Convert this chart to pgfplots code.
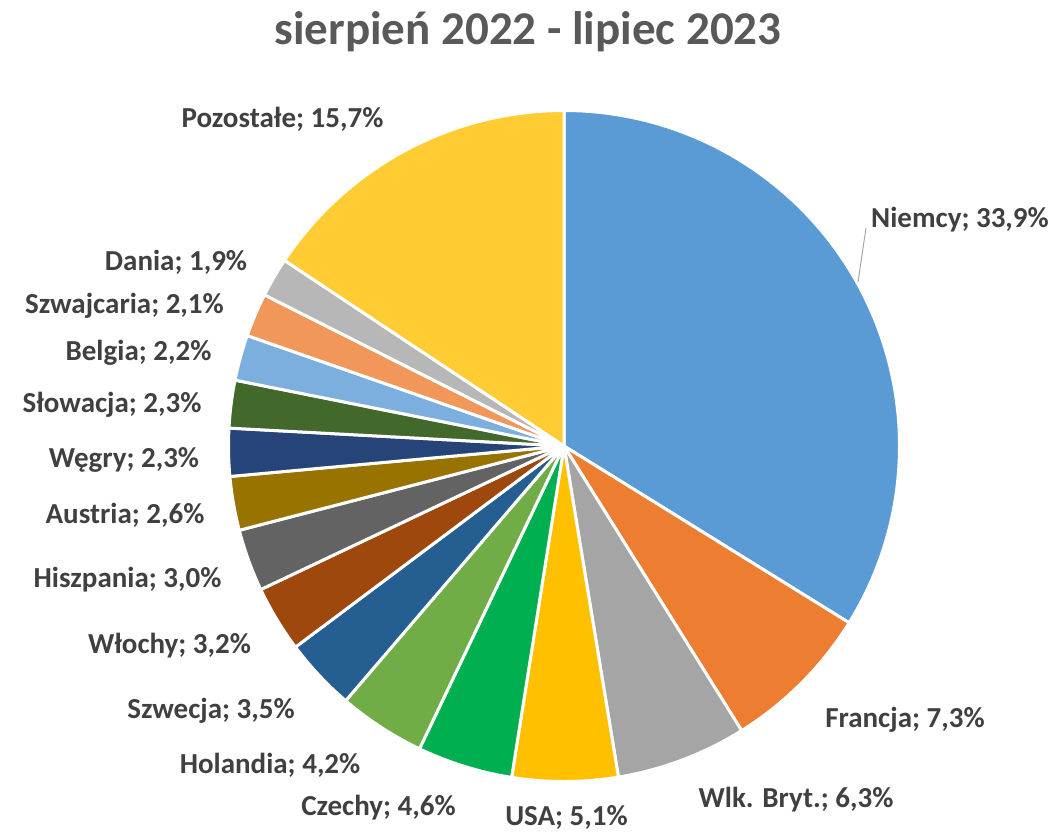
\documentclass[border=0pt]{standalone}
\usepackage{pgfplots}
\pgfplotsset{compat=1.18}
\usepackage{fontspec}
\setmainfont{Carlito}
\definecolor{cNiemcy}{HTML}{5B9BD5}
\definecolor{cFrancja}{HTML}{ED7D31}
\definecolor{cWlk}{HTML}{A5A5A5}
\definecolor{cUSA}{HTML}{FFC000}
\definecolor{cCzechy}{HTML}{00B050}
\definecolor{cHolandia}{HTML}{70AD47}
\definecolor{cSzwecja}{HTML}{255E91}
\definecolor{cWlochy}{HTML}{9E480E}
\definecolor{cHiszpania}{HTML}{636363}
\definecolor{cAustria}{HTML}{997300}
\definecolor{cWegry}{HTML}{264478}
\definecolor{cSlowacja}{HTML}{43682B}
\definecolor{cBelgia}{HTML}{7CAFDD}
\definecolor{cSzwajcaria}{HTML}{F1975A}
\definecolor{cDania}{HTML}{B7B7B7}
\definecolor{cPozostale}{HTML}{FFCD33}
\definecolor{labelgray}{HTML}{404040}
\definecolor{titlegray}{HTML}{595959}
% slice: {start angle}{end angle}{colour}; angles from the shares (percent * 360/100.2), clockwise from 90 deg
\newcommand{\slice}[3]{%
  \addplot[fill=#3, draw=white, line width=1.5pt, line join=round,
    domain=#1:#2, samples=120, variable=\t]
    ({564+335.5*cos(\t)},{446-335.5*sin(\t)}) -- (axis cs:564,446) -- cycle;}
\newcommand{\lab}[3]{\node[anchor=base, text=labelgray, font=\fontsize{14.5}{17}\selectfont\bfseries] at (axis cs:#1,#2) {#3};}
\begin{document}
\begin{tikzpicture}
\begin{axis}[
  scale only axis, width=527pt, height=415.5pt,
  xmin=0, xmax=1054, ymin=0, ymax=831, y dir=reverse,
  hide axis, clip=false]
% shares: 33.9, 7.3, 6.3, 5.1, 4.6, 4.2, 3.5, 3.2, 3.0, 2.6, 2.3, 2.3, 2.2, 2.1, 1.9, 15.7
\slice{-31.80}{90}{cNiemcy}
\slice{-58.02}{-31.80}{cFrancja}
\slice{-80.66}{-58.02}{cWlk}
\slice{-98.98}{-80.66}{cUSA}
\slice{-115.51}{-98.98}{cCzechy}
\slice{-130.60}{-115.51}{cHolandia}
\slice{-143.17}{-130.60}{cSzwecja}
\slice{-154.67}{-143.17}{cWlochy}
\slice{-165.45}{-154.67}{cHiszpania}
\slice{-174.79}{-165.45}{cAustria}
\slice{-183.06}{-174.79}{cWegry}
\slice{-191.32}{-183.06}{cSlowacja}
\slice{-199.22}{-191.32}{cBelgia}
\slice{-206.77}{-199.22}{cSzwajcaria}
\slice{-213.59}{-206.77}{cDania}
\slice{-270}{-213.59}{cPozostale}
\addplot[draw=black!35, line width=0.5pt] coordinates {(858,282) (866,228)};
\node[anchor=base, text=titlegray, font=\fontsize{23.5}{28}\selectfont\bfseries] at (axis cs:528,44) {sierpień 2022 - lipiec 2023};
\lab{282.5}{127}{Pozostałe; 15,7\%}
\lab{960}{227}{Niemcy; 33,9\%}
\lab{176}{270}{Dania; 1,9\%}
\lab{124.5}{313}{Szwajcaria; 2,1\%}
\lab{138.5}{360}{Belgia; 2,2\%}
\lab{112}{412}{Słowacja; 2,3\%}
\lab{124}{467}{Węgry; 2,3\%}
\lab{125}{523}{Austria; 2,6\%}
\lab{127.5}{587}{Hiszpania; 3,0\%}
\lab{169.5}{653}{Włochy; 3,2\%}
\lab{211}{718}{Szwecja; 3,5\%}
\lab{270}{773}{Holandia; 4,2\%}
\lab{378.5}{815}{Czechy; 4,6\%}
\lab{566.5}{825}{USA; 5,1\%}
\lab{905}{727}{Francja; 7,3\%}
\lab{796}{807}{Wlk. Bryt.; 6,3\%}
\end{axis}
\pgfresetboundingbox
\useasboundingbox (current axis.south west) rectangle (current axis.north east);
\end{tikzpicture}
\end{document}
